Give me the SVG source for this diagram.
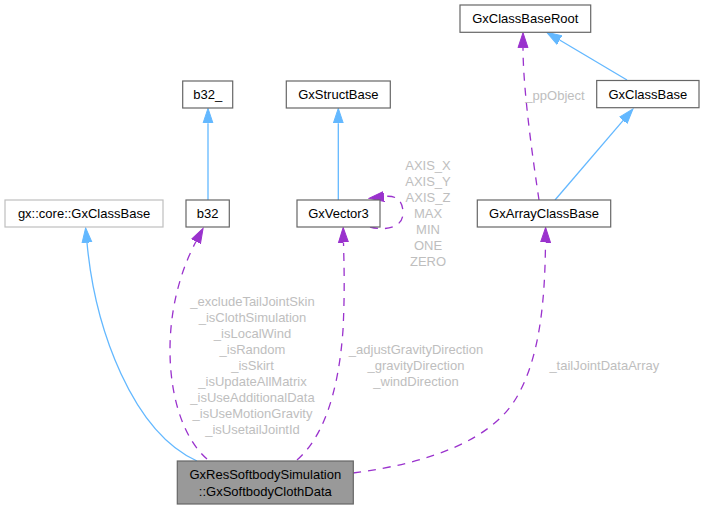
<svg xmlns="http://www.w3.org/2000/svg" width="705" height="509" viewBox="0 0 705 509">
<style>
  .node rect { fill: #ffffff; stroke: #666666; stroke-width: 1.2; }
  .node text { font-family: "Liberation Sans", Arial, sans-serif; font-size: 13px; fill: #000000; text-anchor: middle; }
  .ext rect { stroke: #bfbfbf; }
  .main rect { fill: #999999; }
  .lbl { font-family: "Liberation Sans", Arial, sans-serif; font-size: 13px; fill: #bebebe; text-anchor: middle; }
  .inh { fill: none; stroke: #63b8ff; stroke-width: 1.3; }
  .use { fill: none; stroke: #9a32cd; stroke-width: 1.3; stroke-dasharray: 8,7; }
</style>
<defs>
  <marker id="aBlue" markerUnits="userSpaceOnUse" markerWidth="16" markerHeight="12" refX="0" refY="5" orient="auto" viewBox="0 0 16 10">
    <path d="M0,0 L15,5 L0,10 Z" fill="#63b8ff" stroke="#63b8ff" stroke-width="1"/>
  </marker>
  <marker id="aPurple" markerUnits="userSpaceOnUse" markerWidth="16" markerHeight="12" refX="0" refY="5" orient="auto" viewBox="0 0 16 10">
    <path d="M0,0 L15,5 L0,10 Z" fill="#9a32cd" stroke="#9a32cd" stroke-width="1"/>
  </marker>
</defs>

<g id="edges">
  <path class="inh" d="M208,200 L208,123.3" marker-end="url(#aBlue)"/>
  <path class="inh" d="M338.3,200 L338.3,123.3" marker-end="url(#aBlue)"/>
  <path class="inh" d="M627,80 L559.6,40" marker-end="url(#aBlue)"/>
  <path class="inh" d="M555,200 L623.2,120.4" marker-end="url(#aBlue)"/>
  <path class="inh" d="M197,461 C133,432 95,330 87,242.7" marker-end="url(#aBlue)"/>
  <path class="use" d="M539,200 C533,160 523,90 523,47.7" marker-end="url(#aPurple)"/>
  <path class="use" d="M207,459 C185,440 170,400 170,350 C170,300 185,262 196,241.5" marker-end="url(#aPurple)"/>
  <path class="use" d="M297,460 C320,440 338,400 343,330 C345,290 344,265 343.5,242.5" marker-end="url(#aPurple)"/>
  <path class="use" d="M353,473 C430,463 490,440 515,400 C540,360 545,300 545.5,242.5" marker-end="url(#aPurple)"/>
  <path class="use" d="M370,227 C385,231 403,228 403,213 C403,200 396,195 384,196.5" marker-end="url(#aPurple)"/>
  <text class="lbl" x="555" y="99.5">_ppObject</text>
  <text class="lbl" x="428" y="169.5">AXIS_X</text>
  <text class="lbl" x="428" y="185.5">AXIS_Y</text>
  <text class="lbl" x="428" y="201.5">AXIS_Z</text>
  <text class="lbl" x="428" y="217.5">MAX</text>
  <text class="lbl" x="428" y="233.5">MIN</text>
  <text class="lbl" x="428" y="249.5">ONE</text>
  <text class="lbl" x="428" y="265.5">ZERO</text>
  <text class="lbl" x="252.5" y="306.2">_excludeTailJointSkin</text>
  <text class="lbl" x="252.5" y="322.2">_isClothSimulation</text>
  <text class="lbl" x="252.5" y="338.2">_isLocalWind</text>
  <text class="lbl" x="252.5" y="354.2">_isRandom</text>
  <text class="lbl" x="252.5" y="370.2">_isSkirt</text>
  <text class="lbl" x="252.5" y="386.2">_isUpdateAllMatrix</text>
  <text class="lbl" x="252.5" y="402.2">_isUseAdditionalData</text>
  <text class="lbl" x="252.5" y="418.2">_isUseMotionGravity</text>
  <text class="lbl" x="252.5" y="434.2">_isUsetailJointId</text>
  <text class="lbl" x="416" y="354">_adjustGravityDirection</text>
  <text class="lbl" x="416" y="370">_gravityDirection</text>
  <text class="lbl" x="416" y="386">_windDirection</text>
  <text class="lbl" x="604.3" y="370">_tailJointDataArray</text>
</g>

<g id="node-main" class="node main">
  <rect x="177.3" y="461" width="176" height="43"/>
  <text x="265.3" y="479">GxResSoftbodySimulation</text>
  <text x="265.3" y="495.5">::GxSoftbodyClothData</text>
</g>
<g id="node-gxcore" class="node ext">
  <rect x="5" y="200" width="158" height="27"/>
  <text x="84" y="218.2">gx::core::GxClassBase</text>
</g>
<g id="node-b32" class="node">
  <rect x="186" y="200" width="43.3" height="27"/>
  <text x="207.7" y="218.2">b32</text>
</g>
<g id="node-b32_" class="node">
  <rect x="182.7" y="81" width="50" height="27"/>
  <text x="207.7" y="99.2">b32_</text>
</g>
<g id="node-gxvector3" class="node">
  <rect x="297" y="200" width="83" height="27"/>
  <text x="338.5" y="218.2">GxVector3</text>
</g>
<g id="node-gxstructbase" class="node">
  <rect x="286.3" y="81" width="104" height="27"/>
  <text x="338.3" y="99.2">GxStructBase</text>
</g>
<g id="node-gxarrayclassbase" class="node">
  <rect x="477.3" y="200" width="133.4" height="27"/>
  <text x="544" y="218.2">GxArrayClassBase</text>
</g>
<g id="node-gxclassbaseroot" class="node">
  <rect x="460" y="5" width="130.7" height="27.3"/>
  <text x="525.3" y="23.3">GxClassBaseRoot</text>
</g>
<g id="node-gxclassbase" class="node">
  <rect x="596.7" y="80.5" width="102.3" height="27.2"/>
  <text x="647.8" y="98.7">GxClassBase</text>
</g>
</svg>
